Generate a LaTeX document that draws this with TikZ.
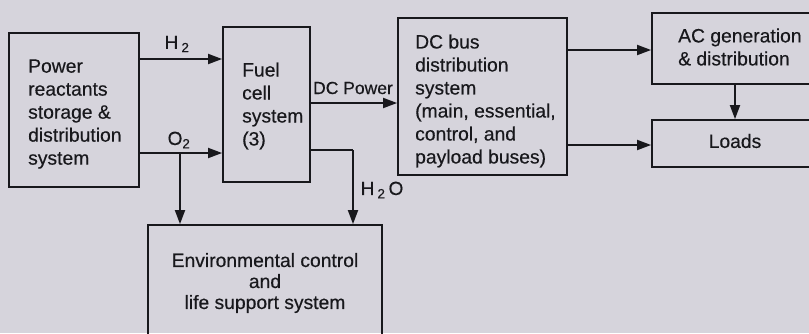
\documentclass[tikz,border=0pt]{standalone}
\usepackage{fontspec}
\setmainfont{Liberation Sans}[FakeBold=0.4]
\usetikzlibrary{arrows.meta}
\definecolor{bg}{RGB}{214,212,220}
\definecolor{ink}{RGB}{24,24,28}
\begin{document}
\begin{tikzpicture}[x=1pt,y=-1pt,
  box/.style={draw=ink, line width=1.8pt, rectangle, inner sep=0pt},
  txt/.style={text=ink, font=\fontsize{19.3}{23}\selectfont, align=left, inner sep=0pt},
  ctxt/.style={text=ink, font=\fontsize{19.3}{21}\selectfont, align=center, inner sep=0pt},
  lab/.style={text=ink, font=\fontsize{19}{21}\selectfont, inner sep=0pt},
  arr/.style={draw=ink, line width=1.8pt, -{Triangle[length=14pt,width=10pt]}},
  ln/.style={draw=ink, line width=1.8pt}]
\fill[bg] (0,0) rectangle (809,333);
\useasboundingbox (0,0) rectangle (809,333);

% boxes
\node[box, minimum width=130, minimum height=154] (A) at (74,110) {};
\node[box, minimum width=87, minimum height=155] (B) at (266.5,104.5) {};
\node[box, minimum width=169, minimum height=157] (C) at (482.5,96.5) {};
\node[box, minimum width=178, minimum height=71] (D) at (741,48.5) {};
\node[box, minimum width=178, minimum height=47] (E) at (741,143.5) {};
\node[box, minimum width=234, minimum height=120] (F) at (265,285) {};

% box texts
\node[txt, anchor=west] (At) at (28,114) {Power\\reactants\\storage \&\\distribution\\system};
\node[txt, anchor=west] (Bt) at (242,106) {Fuel\\cell\\system\\(3)};
\node[txt, anchor=west] (Ct) at (415,101) {DC bus\\distribution\\system\\(main, essential,\\control, and\\payload buses)};
\node[txt, anchor=west] (Dt) at (678,47) {AC generation\\\& distribution};
\node[txt] (Et) at (735,141) {Loads};
\node[ctxt] (Ft) at (265,283) {Environmental control\\and\\life support system};

% helper coordinates
\coordinate (h2) at (0,59);
\coordinate (o2) at (0,153);
\coordinate (dcp) at (0,103);
\coordinate (h2o) at (0,150);
\coordinate (acy) at (0,50);
\coordinate (ldy) at (0,145);
\coordinate (o2x) at (180,0);
\coordinate (h2ox) at (353,0);
\coordinate (acx) at (735,0);
\coordinate (h2oc) at (353,150);

% connectors
\draw[arr] (A.east |- h2) -- (B.west |- h2);
\draw[arr] (A.east |- o2) -- (B.west |- o2);
\draw[arr] (o2x |- o2) -- (o2x |- F.north);
\draw[arr] (B.east |- dcp) -- (C.west |- dcp);
\draw[ln] (B.east |- h2o) -- (h2oc);
\draw[arr] (h2oc) -- (h2ox |- F.north);
\draw[arr] (C.east |- acy) -- (D.west |- acy);
\draw[arr] (C.east |- ldy) -- (E.west |- ldy);
\draw[arr] (acx |- D.south) -- (acx |- E.north);

% labels
\node[lab] (lh2) at (177,44) {H\,\textsubscript{2}};
\node[lab] (lo2) at (179,140) {O\textsubscript{2}};
\node[lab, font=\fontsize{17.5}{20}\selectfont] (ldc) at (353,88) {DC Power};
\node[lab] (lh2o) at (382,190) {H\,\textsubscript{2}\,O};
\end{tikzpicture}
\end{document}
